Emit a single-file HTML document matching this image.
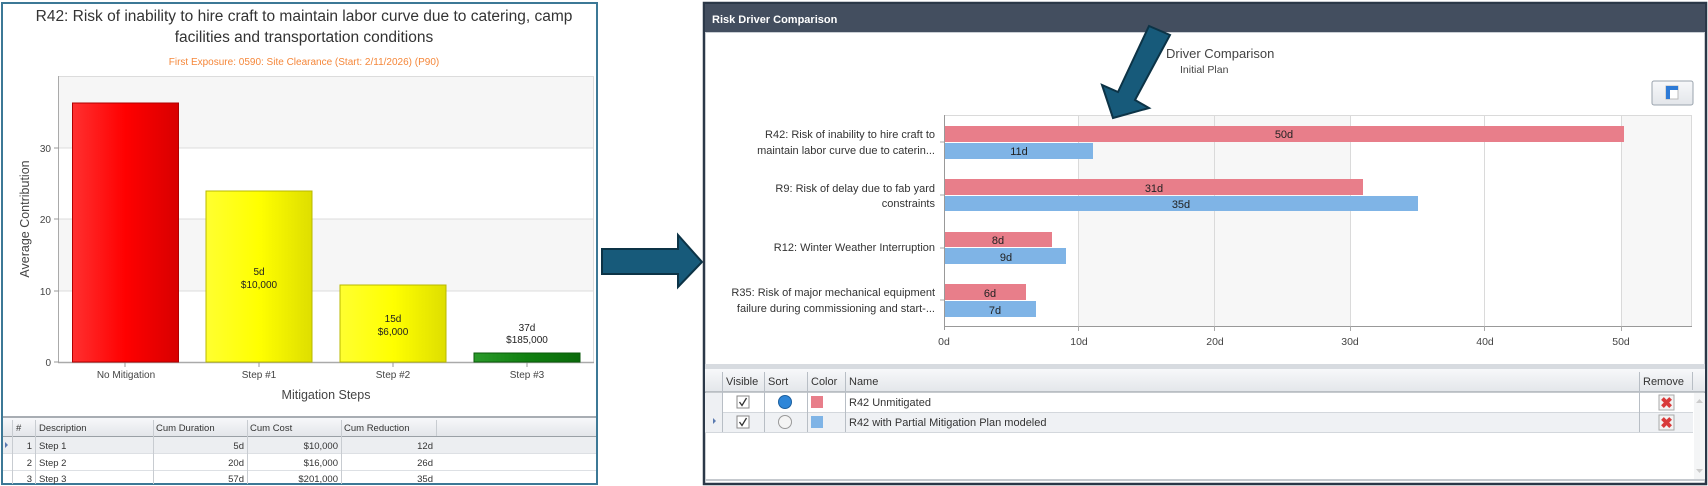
<!DOCTYPE html>
<html><head><meta charset="utf-8"><style>
html,body{margin:0;padding:0;background:#fff;}
svg{display:block;font-family:"Liberation Sans",Arial,sans-serif;}
</style></head><body>
<svg width="1708" height="486" viewBox="0 0 1708 486" xmlns="http://www.w3.org/2000/svg">
<defs>
<linearGradient id="gr" x1="0" x2="1"><stop offset="0" stop-color="#ff3030"/><stop offset="0.5" stop-color="#ff0000"/><stop offset="1" stop-color="#d80000"/></linearGradient>
<linearGradient id="gy" x1="0" x2="1"><stop offset="0" stop-color="#ffff30"/><stop offset="0.5" stop-color="#ffff00"/><stop offset="1" stop-color="#dede00"/></linearGradient>
<linearGradient id="gg" x1="0" x2="1"><stop offset="0" stop-color="#2a9a2a"/><stop offset="0.5" stop-color="#108010"/><stop offset="1" stop-color="#0a6a0a"/></linearGradient>
<linearGradient id="hd" x1="0" y1="0" x2="0" y2="1"><stop offset="0" stop-color="#f7f8fa"/><stop offset="1" stop-color="#e3e6ea"/></linearGradient>
</defs>

<!-- LEFT PANEL -->
<rect x="2" y="3" width="595" height="481" fill="#fff" stroke="#3c7896" stroke-width="2"/>
<text x="304" y="21" font-size="15.5" text-anchor="middle" fill="#333">R42: Risk of inability to hire craft to maintain labor curve due to catering, camp</text>
<text x="304" y="42" font-size="15.5" text-anchor="middle" fill="#333">facilities and transportation conditions</text>
<text x="304" y="65" font-size="10" text-anchor="middle" fill="#f5873a">First Exposure: 0590: Site Clearance (Start: 2/11/2026) (P90)</text>
<!-- plot bands -->
<rect x="59" y="76" width="535" height="72" fill="#f6f6f6"/>
<rect x="59" y="148" width="535" height="71" fill="#fff"/>
<rect x="59" y="219" width="535" height="72" fill="#f6f6f6"/>
<rect x="59" y="291" width="535" height="71" fill="#fff"/>
<g stroke="#dcdcdc" stroke-width="1">
<line x1="59" y1="148" x2="594" y2="148"/><line x1="59" y1="219" x2="594" y2="219"/><line x1="59" y1="291" x2="594" y2="291"/>
<line x1="59" y1="76.5" x2="594" y2="76.5"/><line x1="593.5" y1="76" x2="593.5" y2="362"/>
</g>
<line x1="58.5" y1="76" x2="58.5" y2="363" stroke="#aaa"/>
<line x1="58" y1="362.5" x2="594" y2="362.5" stroke="#aaa" stroke-width="1.5"/>
<g stroke="#999"><line x1="54" y1="148" x2="59" y2="148"/><line x1="54" y1="219" x2="59" y2="219"/><line x1="54" y1="291" x2="59" y2="291"/><line x1="54" y1="362" x2="59" y2="362"/>
<line x1="125" y1="362" x2="125" y2="367"/><line x1="259" y1="362" x2="259" y2="367"/><line x1="393" y1="362" x2="393" y2="367"/><line x1="527" y1="362" x2="527" y2="367"/></g>
<g font-size="10" fill="#444" text-anchor="end"><text x="51" y="152">30</text><text x="51" y="223">20</text><text x="51" y="295">10</text><text x="51" y="366">0</text></g>
<text transform="translate(29,219) rotate(-90)" font-size="12.5" text-anchor="middle" fill="#444">Average Contribution</text>
<rect x="72.5" y="103" width="106" height="259" fill="url(#gr)" stroke="#b00000"/>
<rect x="206" y="191" width="106" height="171" fill="url(#gy)" stroke="#b8b800"/>
<rect x="340" y="285" width="106" height="77" fill="url(#gy)" stroke="#b8b800"/>
<rect x="474" y="353" width="106" height="9" fill="url(#gg)" stroke="#0a5a0a"/>
<g font-size="10" fill="#222" text-anchor="middle">
<text x="259" y="275">5d</text><text x="259" y="288">$10,000</text>
<text x="393" y="322">15d</text><text x="393" y="335">$6,000</text>
<text x="527" y="331">37d</text><text x="527" y="343">$185,000</text>
</g>
<g font-size="10" fill="#444" text-anchor="middle">
<text x="126" y="378">No Mitigation</text><text x="259" y="378">Step #1</text><text x="393" y="378">Step #2</text><text x="527" y="378">Step #3</text>
</g>
<text x="326" y="399" font-size="12.5" text-anchor="middle" fill="#444">Mitigation Steps</text>
<!-- left table -->
<rect x="3" y="416" width="593" height="2" fill="#a8adb3"/>
<rect x="3" y="418" width="593" height="18" fill="url(#hd)"/>
<line x1="3" y1="436.5" x2="596" y2="436.5" stroke="#9aa0a6"/>
<rect x="3" y="437" width="593" height="16" fill="#eceef1"/>
<line x1="3" y1="453.5" x2="596" y2="453.5" stroke="#dde0e4"/>
<line x1="3" y1="470.5" x2="596" y2="470.5" stroke="#dde0e4"/>
<g stroke="#c8ccd1"><line x1="12.5" y1="420" x2="12.5" y2="484"/><line x1="35.5" y1="420" x2="35.5" y2="484"/><line x1="153.5" y1="420" x2="153.5" y2="484"/><line x1="247.5" y1="420" x2="247.5" y2="484"/><line x1="341.5" y1="420" x2="341.5" y2="484"/><line x1="436.5" y1="420" x2="436.5" y2="436"/></g>
<g font-size="9.5" fill="#333">
<text x="16" y="431">#</text><text x="39" y="431">Description</text><text x="156" y="431">Cum Duration</text><text x="250" y="431">Cum Cost</text><text x="344" y="431">Cum Reduction</text>
<text x="32" y="449" text-anchor="end">1</text><text x="39" y="449">Step 1</text><text x="244" y="449" text-anchor="end">5d</text><text x="338" y="449" text-anchor="end">$10,000</text><text x="433" y="449" text-anchor="end">12d</text>
<text x="32" y="466" text-anchor="end">2</text><text x="39" y="466">Step 2</text><text x="244" y="466" text-anchor="end">20d</text><text x="338" y="466" text-anchor="end">$16,000</text><text x="433" y="466" text-anchor="end">26d</text>
<text x="32" y="482" text-anchor="end">3</text><text x="39" y="482">Step 3</text><text x="244" y="482" text-anchor="end">57d</text><text x="338" y="482" text-anchor="end">$201,000</text><text x="433" y="482" text-anchor="end">35d</text>
</g>
<polygon points="5,442 8,445 5,448" fill="#5a7ab0"/>

<!-- middle arrow -->
<polygon points="602,249 678,249 678,235 702,262 678,287 678,274 602,274" fill="#175a7a" stroke="#0c3346" stroke-width="2"/>

<!-- RIGHT PANEL -->
<rect x="704" y="3" width="1002" height="481" fill="#fff" stroke="#2b3848" stroke-width="2.5"/>
<rect x="705" y="4" width="1000" height="28" fill="#434e5f"/>
<line x1="705" y1="32.5" x2="1705" y2="32.5" stroke="#c9ced4"/>
<text x="712" y="23" font-size="11" font-weight="bold" fill="#fff">Risk Driver Comparison</text>
<text x="1166" y="58" font-size="13" fill="#444">Driver Comparison</text>
<text x="1180" y="73" font-size="10.5" fill="#444">Initial  Plan</text>
<rect x="1652" y="81" width="41" height="24" rx="2" fill="url(#hd)" stroke="#9aa3ad"/>
<rect x="1666" y="86" width="12" height="13" fill="#fff" stroke="#bbb"/>
<polygon points="1666,86 1678,86 1678,90 1670,90 1670,99 1666,99" fill="#2d7ad6"/>
<!-- plot -->
<rect x="944" y="115" width="748" height="211" fill="#fff"/>
<rect x="1079" y="115" width="135" height="211" fill="#f7f7f7"/>
<rect x="1214" y="115" width="136" height="211" fill="#f7f7f7"/>
<rect x="1621" y="115" width="71" height="211" fill="#f7f7f7"/>
<g stroke="#dadada"><line x1="1078.5" y1="115" x2="1078.5" y2="326"/><line x1="1214.5" y1="115" x2="1214.5" y2="326"/><line x1="1350.5" y1="115" x2="1350.5" y2="326"/><line x1="1484.5" y1="115" x2="1484.5" y2="326"/><line x1="1621.5" y1="115" x2="1621.5" y2="326"/><line x1="944" y1="115.5" x2="1692" y2="115.5"/><line x1="1691.5" y1="115" x2="1691.5" y2="326"/></g>
<line x1="944.5" y1="115" x2="944.5" y2="330" stroke="#999"/>
<line x1="944" y1="326.5" x2="1692" y2="326.5" stroke="#999"/>
<g stroke="#aaa">
<line x1="1078.5" y1="326" x2="1078.5" y2="331"/><line x1="1214.5" y1="326" x2="1214.5" y2="331"/><line x1="1350.5" y1="326" x2="1350.5" y2="331"/><line x1="1484.5" y1="326" x2="1484.5" y2="331"/><line x1="1621.5" y1="326" x2="1621.5" y2="331"/>
<line x1="940" y1="142" x2="944" y2="142"/><line x1="940" y1="195" x2="944" y2="195"/><line x1="940" y1="248" x2="944" y2="248"/><line x1="940" y1="300" x2="944" y2="300"/>
</g>
<g font-size="10.5" fill="#444" text-anchor="middle"><text x="944" y="345">0d</text><text x="1079" y="345">10d</text><text x="1215" y="345">20d</text><text x="1350" y="345">30d</text><text x="1485" y="345">40d</text><text x="1621" y="345">50d</text></g>
<g fill="#e87e8a"><rect x="945" y="126" width="679" height="16"/><rect x="945" y="179" width="418" height="16"/><rect x="945" y="232" width="107" height="15"/><rect x="945" y="284" width="81" height="16"/></g>
<g fill="#7fb4e6"><rect x="945" y="143" width="148" height="16"/><rect x="945" y="196" width="473" height="15"/><rect x="945" y="248" width="121" height="16"/><rect x="945" y="301" width="91" height="16"/></g>
<g font-size="11" fill="#222" text-anchor="middle">
<text x="1284" y="138">50d</text><text x="1019" y="155">11d</text>
<text x="1154" y="192">31d</text><text x="1181" y="208">35d</text>
<text x="998" y="244">8d</text><text x="1006" y="261">9d</text>
<text x="990" y="297">6d</text><text x="995" y="314">7d</text>
</g>
<g font-size="11" fill="#333" text-anchor="end">
<text x="935" y="138">R42: Risk of inability to hire craft to</text>
<text x="935" y="154">maintain labor curve due to caterin...</text>
<text x="935" y="192">R9: Risk of delay due to fab yard</text>
<text x="935" y="207">constraints</text>
<text x="935" y="251">R12: Winter Weather Interruption</text>
<text x="935" y="296">R35: Risk of major mechanical equipment</text>
<text x="935" y="312">failure during commissioning and start-...</text>
</g>
<!-- right arrow -->
<polygon points="1149,26 1170,35 1135,100 1149,108 1113,118 1102,85 1118,92" fill="#175a7a" stroke="#0c3346" stroke-width="2"/>
<!-- right table -->
<rect x="705" y="364" width="1000" height="5" fill="#d7dbe0"/>
<rect x="705" y="369" width="1000" height="23" fill="url(#hd)"/>
<line x1="705" y1="392" x2="1705" y2="392" stroke="#8e959c"/>
<rect x="705" y="412" width="988" height="20" fill="#eff1f4"/>
<line x1="705" y1="412.5" x2="1693" y2="412.5" stroke="#d3d7dc"/>
<line x1="705" y1="432.5" x2="1693" y2="432.5" stroke="#d3d7dc"/>
<rect x="705" y="393" width="17" height="39" fill="#eef0f3"/>
<g stroke="#b8bec5"><line x1="722.5" y1="372" x2="722.5" y2="432"/><line x1="764.5" y1="372" x2="764.5" y2="432"/><line x1="807.5" y1="372" x2="807.5" y2="432"/><line x1="845.5" y1="372" x2="845.5" y2="432"/><line x1="1639.5" y1="372" x2="1639.5" y2="432"/><line x1="1692.5" y1="372" x2="1692.5" y2="390"/></g>
<g font-size="11" fill="#333">
<text x="726" y="385">Visible</text><text x="768" y="385">Sort</text><text x="811" y="385">Color</text><text x="849" y="385">Name</text><text x="1643" y="385">Remove</text>
<text x="849" y="406">R42 Unmitigated</text><text x="849" y="426">R42 with Partial Mitigation Plan modeled</text>
</g>
<g fill="#fff" stroke="#888"><rect x="737" y="396" width="12" height="12"/><rect x="737" y="416" width="12" height="12"/></g>
<g fill="none" stroke="#333" stroke-width="1.3"><polyline points="739.5,402 742,405.5 746.5,398"/><polyline points="739.5,422 742,425.5 746.5,418"/></g>
<circle cx="785" cy="402" r="6.5" fill="#2e86d8" stroke="#1c5f9e"/>
<circle cx="785" cy="422" r="6.5" fill="#f4f4f4" stroke="#999"/>
<rect x="811" y="396" width="12" height="12" fill="#e87e8a"/>
<rect x="811" y="416" width="12" height="12" fill="#7fb4e6"/>
<polygon points="713,418 716,421 713,424" fill="#5a7ab0"/>
<g><rect x="1659" y="395" width="15" height="15" fill="#f3f3f3" stroke="#aaa"/><text x="1666.5" y="408" font-size="15" font-weight="bold" fill="#d83a3a" text-anchor="middle">✖</text>
<rect x="1659" y="415" width="15" height="15" fill="#f3f3f3" stroke="#aaa"/><text x="1666.5" y="428" font-size="15" font-weight="bold" fill="#d83a3a" text-anchor="middle">✖</text></g>
<rect x="1694" y="393" width="11" height="87" fill="#f4f5f6"/>
<polygon points="1696,403 1699.5,399 1703,403" fill="#ccc"/>
<polygon points="1696,469 1699.5,473 1703,469" fill="#ccc"/>
<rect x="705" y="479" width="1000" height="2" fill="#c5c9ce"/>
</svg>
</body></html>
